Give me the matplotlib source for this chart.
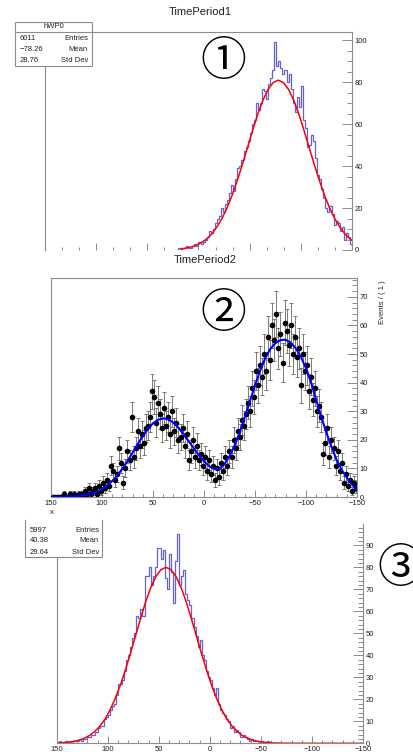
import numpy as np
import matplotlib.pyplot as plt
from matplotlib.patches import Rectangle
from matplotlib.lines import Line2D
from matplotlib.ticker import MultipleLocator

plt.rcParams['font.family'] = ['Liberation Sans', 'DejaVu Sans']

# --- panel 1: hWP0 histogram (bin width 2, first bin starts at -150) ---
p1_lo = -150
p1_counts = [3, 6, 8, 5, 11, 9, 13, 14, 12, 17,
             21, 18, 20, 25, 29, 34, 36, 44, 52, 55,
             50, 49, 58, 62, 78, 68, 73, 66, 70, 77,
             84, 80, 86, 84, 87, 90, 88, 99, 86, 82,
             79, 72, 76, 77, 70, 67, 70, 62, 60, 56,
             52, 49, 47, 43, 40, 39, 34, 28, 31, 27,
             24, 22, 18, 20, 16, 15, 13, 10, 8, 9,
             6, 5, 4, 3, 4, 2, 3, 2, 1, 1,
             2, 1, 1, 0, 1, 0, 0]
p1_fit_x = [17, 12, 7, 2, -3, -8, -13, -18, -23, -28, -33, -38, -43, -48, -53,
            -58, -63, -68, -73, -78, -83, -88, -93, -98, -103, -108, -113, -118,
            -123, -128, -133, -138, -143, -148, -150]
p1_fit_y = [0.5, 0.9, 1.5, 2.3, 3.6, 5.3, 7.7, 11.0, 15.1, 20.2, 26.3, 33.3, 41.0,
            49.1, 57.2, 64.9, 71.5, 76.6, 79.9, 81.0, 79.9, 76.6, 71.5, 64.9, 57.2,
            49.1, 41.0, 33.3, 26.3, 20.2, 15.1, 11.0, 7.7, 5.3, 4.6]
p1_stats = [("Entries", "6011"), ("Mean", "\u221278.26"), ("Std Dev", "28.76")]

# --- panel 2: points with errors (bin centres -149 .. 149, step 2) ---
p2_first = -149
p2_counts = [3, 5, 2, 6, 4, 8, 5, 12, 9, 16,
             11, 17, 20, 14, 24, 19, 15, 28, 32, 30,
             38, 34, 42, 37, 46, 44, 50, 39, 52, 49,
             56, 50, 60, 53, 58, 61, 47, 57, 52, 64,
             55, 60, 48, 56, 44, 50, 42, 46, 39, 44,
             35, 38, 30, 33, 29, 25, 27, 21, 23, 17,
             20, 14, 16, 11, 14, 9, 12, 7, 10, 6,
             11, 8, 13, 9, 14, 11, 15, 13, 18, 14,
             20, 16, 13, 22, 18, 24, 21, 20, 26, 23,
             30, 22, 28, 25, 31, 24, 29, 33, 26, 35,
             37, 28, 25, 24, 19, 22, 18, 23, 17, 14,
             28, 13, 16, 10, 5, 12, 17, 8, 6, 9,
             11, 4, 6, 3, 5, 2, 4, 1, 3, 2,
             1, 3, 1, 2, 0, 1, 1, 0, 1, 0,
             1, 0, 0, 1, 0, 0, 0, 0, 0, 0]
p2_fit_y = [0.1, 0.1, 0.1, 0.2, 0.2, 0.3, 0.5, 0.8, 1.2, 1.9, 2.8, 4.0, 5.6, 7.6,
            9.9, 12.6, 15.5, 18.5, 21.3, 23.8, 25.8, 27.0, 27.5, 27.2, 26.0, 24.2,
            22.0, 19.5, 17.0, 14.6, 12.5, 10.8, 9.8, 9.7, 11.5, 14.2, 18.0, 22.5,
            28.0, 33.5, 39.0, 44.2, 48.5, 51.8, 53.8, 54.9, 55.0, 54.0, 52.0, 49.0,
            45.0, 40.0, 34.0, 28.0, 22.5, 17.5, 13.0, 9.5, 6.8, 4.5, 2.5]
p2_fit_x = np.arange(150, -151, -5)

# --- panel 3 histogram (bin width 2, first bin starts at -70) ---
p3_lo = -70
p3_counts = [0, 0, 0, 0, 0, 0, 1, 0, 0, 1,
             0, 1, 1, 1, 2, 1, 2, 3, 4, 3,
             5, 6, 5, 8, 7, 10, 11, 13, 14, 15,
             18, 25, 22, 25, 29, 30, 33, 38, 40, 47,
             44, 49, 53, 57, 63, 65, 68, 79, 76, 72,
             95, 83, 64, 78, 86, 70, 75, 88, 84, 89,
             89, 80, 76, 72, 80, 76, 76, 58, 61, 57,
             58, 50, 48, 44, 40, 38, 33, 29, 27, 27,
             22, 18, 17, 15, 13, 12, 11, 8, 8, 7,
             5, 4, 4, 3, 3, 2, 2, 1, 2, 1,
             1, 1, 0, 1, 0, 1, 0, 0, 1, 0]
p3_fit_x = [150, 148, 143, 138, 133, 128, 123, 118, 113, 108, 103, 98, 93, 88, 83,
            78, 73, 68, 63, 58, 53, 48, 43, 38, 33, 28, 23, 18, 13, 8, 3, -2, -7,
            -12, -17, -22, -27, -32, -37, -42, -47, -52, -57, -62, -67, -72, -77,
            -82, -150]
p3_fit_y = [0.12, 0.17, 0.31, 0.53, 0.89, 1.45, 2.3, 3.5, 5.3, 7.6, 10.8, 14.9,
            20.0, 26.0, 32.9, 40.5, 48.5, 56.5, 64.1, 70.6, 75.7, 78.9, 80.0, 78.9,
            75.7, 70.6, 64.1, 56.5, 48.5, 40.5, 32.9, 26.0, 20.0, 14.9, 10.8, 7.6,
            5.3, 3.5, 2.3, 1.45, 0.89, 0.53, 0.31, 0.17, 0.09, 0.05, 0.03, 0.01, 0.0]
p3_stats = [("Entries", "5997"), ("Mean", "40.38"), ("Std Dev", "29.64")]

W, H = 414, 752
fig = plt.figure(figsize=(W / 100, H / 100), dpi=100)

def frac(x0, y0, x1, y1):
    return [x0 / W, 1 - y1 / H, (x1 - x0) / W, (y1 - y0) / H]

def fx(x):
    return x / W

def fy(y):
    return 1 - y / H

GRAY = '#8c8c8c'
TXT = '#222222'

def style(ax, ymax, ymaj, ymin, xmin):
    ax.set_xlim(150, -150)
    ax.set_ylim(0, ymax)
    ax.yaxis.tick_right()
    ax.xaxis.set_major_locator(MultipleLocator(50))
    ax.xaxis.set_minor_locator(MultipleLocator(xmin))
    ax.yaxis.set_major_locator(MultipleLocator(ymaj))
    ax.yaxis.set_minor_locator(MultipleLocator(ymin))
    ax.tick_params(which='both', direction='in', color=GRAY, labelcolor=TXT,
                   labelsize=5.5, width=0.7)
    ax.tick_params(axis='y', which='major', length=7, pad=2)
    ax.tick_params(axis='y', which='minor', length=3.5)
    ax.tick_params(axis='x', which='major', length=5, pad=2)
    ax.tick_params(axis='x', which='minor', length=2.5)
    for s in ax.spines.values():
        s.set_color(GRAY)
        s.set_linewidth(0.8)

# panel 1
ax1 = fig.add_axes(frac(45, 32, 352, 250))
style(ax1, 104, 20, 5, 50 / 3)
ax1.spines['bottom'].set_visible(False)
ax1.tick_params(axis='x', labelbottom=False)
ax1.stairs(p1_counts, p1_lo + 2 * np.arange(len(p1_counts) + 1),
           color='#6262d2', lw=0.9)
ax1.plot(p1_fit_x, p1_fit_y, color='red', lw=1.1)

# panel 2
ax2 = fig.add_axes(frac(51, 278, 357, 497))
style(ax2, 76.6, 10, 2, 10)
p2_x = p2_first + 2 * np.arange(len(p2_counts))
p2_y = np.array(p2_counts, dtype=float)
ax2.errorbar(p2_x, p2_y, yerr=np.sqrt(p2_y), fmt='o', ms=3, color='black',
             ecolor='0.4', elinewidth=0.6, capsize=1.2, capthick=0.6, zorder=2)
ax2.plot(p2_fit_x, p2_fit_y, color='#0000ff', lw=1.5, zorder=3)

# panel 3
ax3 = fig.add_axes(frac(56.7, 524.4, 363, 743.3))
style(ax3, 99.5, 10, 2, 10)
ax3.spines['top'].set_visible(False)
ax3.stairs(p3_counts, p3_lo + 2 * np.arange(len(p3_counts) + 1),
           color='#6262d2', lw=0.9)
ax3.plot(p3_fit_x, p3_fit_y, color='red', lw=1.1)

# titles and axis titles
fig.text(fx(200), fy(12), "TimePeriod1", ha='center', va='center', fontsize=8, color=TXT)
fig.text(fx(205), fy(260), "TimePeriod2", ha='center', va='center', fontsize=8, color=TXT)
fig.text(fx(52), fy(512), "x", ha='center', va='center', fontsize=5.5, color=TXT)
fig.text(fx(383), fy(280), "Events / ( 1 )", ha='center', va='top', rotation=90,
         fontsize=5.5, color=TXT)

# stats boxes
r1 = Rectangle((fx(15), fy(66)), fx(92) - fx(15), fy(22) - fy(66),
               transform=fig.transFigure, facecolor='white', edgecolor=GRAY,
               lw=0.8, zorder=5)
fig.add_artist(r1)
fig.add_artist(Line2D([fx(15), fx(92)], [fy(32), fy(32)], transform=fig.transFigure,
                      color=GRAY, lw=0.8, zorder=6))
fig.text(fx(54), fy(27), "hWP0", ha='center', va='center', fontsize=5.5, color=TXT, zorder=7)
for i, (lab, val) in enumerate(p1_stats):
    yy = fy(38.5 + 11 * i)
    fig.text(fx(20), yy, val, ha='left', va='center', fontsize=5.5, color=TXT, zorder=7)
    fig.text(fx(88), yy, lab, ha='right', va='center', fontsize=5.5, color=TXT, zorder=7)

r3 = Rectangle((fx(25), fy(557)), fx(102) - fx(25), fy(520) - fy(557),
               transform=fig.transFigure, facecolor='white', edgecolor='none', zorder=5)
fig.add_artist(r3)
fig.add_artist(Line2D([fx(25), fx(25), fx(102), fx(102)],
                      [fy(520), fy(557), fy(557), fy(520)],
                      transform=fig.transFigure, color=GRAY, lw=0.8, zorder=6))
for i, (lab, val) in enumerate(p3_stats):
    yy = fy(530 + 11 * i)
    fig.text(fx(30), yy, val, ha='left', va='center', fontsize=5.5, color=TXT, zorder=7)
    fig.text(fx(99), yy, lab, ha='right', va='center', fontsize=5.5, color=TXT, zorder=7)

# circled panel numbers
circ = ['Noto Sans CJK SC', 'DejaVu Sans']
fig.text(fx(223), fy(62), "\u2460", ha='center', va='center', fontsize=33, family=circ)
fig.text(fx(223), fy(314), "\u2461", ha='center', va='center', fontsize=33, family=circ)
fig.text(fx(400), fy(569), "\u2462", ha='center', va='center', fontsize=33, family=circ)

fig.savefig('out.png', dpi=100)
